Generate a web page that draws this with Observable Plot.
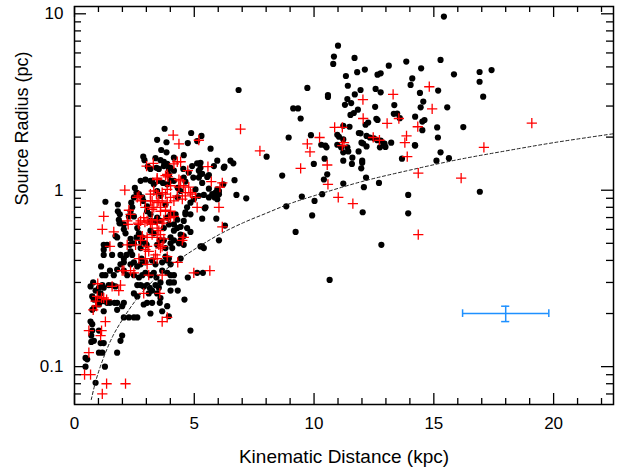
<!DOCTYPE html>
<html>
<head>
<meta charset="utf-8">
<script src="https://cdn.jsdelivr.net/npm/d3@7"></script>
<script src="https://cdn.jsdelivr.net/npm/@observablehq/plot@0.6"></script>
<style>
  html, body { margin: 0; padding: 0; background: #fff; }
</style>
</head>
<body>
<div id="chart"></div>
<script>
// ---- Data ----
// Black filled circles: [distance kpc, radius pc]
const blackSources = [
  [3.76,2.23],[3.45,1.93],[3.84,1.87],[3.62,1.69],[3.84,1.64],[4.73,1.85],[4.87,2.11],[5.3,2.03],[5.12,1.9],[5.68,1.72],
  [4.56,1.58],[4.15,1.53],[3.59,1.48],[3.73,1.45],[2.87,1.55],[2.92,1.48],[3.06,1.36],[3.42,1.34],[3.52,1.32],[3.73,1.37],
  [3.94,1.32],[4.54,1.32],[5.12,1.42],[5.26,1.34],[5.33,1.24],[5.82,1.37],[6.26,1.36],[6.51,1.47],[6.63,1.42],[5.54,1.19],
  [6.68,1.14],[7.17,0.9],[6.76,0.94],[6.21,1.08],[5.96,1.01],[6.03,0.95],[5.4,0.94],[5.47,0.8],[5.92,0.69],[5.85,0.91],
  [5.61,1.02],[5.33,1.1],[5.05,1.01],[4.96,1.18],[4.77,1.26],[5.33,0.69],[4.84,0.73],[4.7,0.8],[4.63,0.75],[4.31,1.03],
  [4.43,0.99],[4.31,0.91],[4.15,1.13],[4.01,1.13],[3.94,1.22],[3.17,1.13],[3.31,1.08],[2.76,1.13],[2.59,0.97],[2.69,0.95],
  [2.48,0.91],[2.37,0.85],[2.41,0.8],[1.81,0.83],[1.81,0.76],[1.29,0.86],[1.22,0.49],[1.36,0.49],[1.71,0.55],[1.78,0.54],
  [2.06,0.6],[2.13,0.57],[2.34,0.53],[2.83,0.54],[2.96,0.5],[3.56,0.52],[4.01,0.54],[4.15,0.52],[4.56,0.49],[5.33,0.48],
  [2.87,0.87],[3.03,0.76],[3.17,0.73],[3.45,0.7],[3.59,0.67],[3.87,0.7],[4.01,0.73],[4.15,0.64],[4.29,0.61],[3.73,0.61],
  [3.17,0.59],[3.31,0.57],[2.62,0.61],[2.69,0.57],[2.06,0.64],[4.43,0.56],[4.56,0.55],[4.7,0.61],[2.48,0.71],[2.34,0.76],
  [1.89,0.73],[1.85,0.68],
  [3.38,1.52],[3.87,1.41],[3.17,1.32],[2.96,1.15],[2.52,1.03],[1.92,0.65],[2.83,0.91],[3.03,0.81],[3.24,1.13],[3.52,1.13],
  [3.69,1.1],[3.87,1.08],[3.45,0.99],[3.59,0.93],[3.8,0.83],[2.27,0.71],[3.17,0.67],[3.38,0.67],
  [4.91,1.37],[5.26,1.43],[5.19,1.29],[5.26,1.23],[5.19,1.18],[5.61,1.22],[5.96,1.47],[6.23,1.34],[4.63,1.12],[4.56,1.18],
  [4.01,1.34],[4.15,1.29],[3.91,1.23],[5.61,0.91],[5.75,0.95],[5.89,0.97],[6.03,0.99],[5.96,0.89],[5.19,0.93],[5.44,0.79],
  [4.56,0.67],[4.63,0.73],[4.22,0.73],[4.29,0.68],[4.84,0.85],[4.98,0.89],
  [6.03,0.52],[5.4,0.47],[5.26,0.48],[1.22,0.46],[1.22,0.43],[1.57,0.43],[2.06,0.41],[2.17,0.43],[2.34,0.45],[2.31,0.49],
  [2.48,0.5],[2.59,0.54],[2.78,0.51],[3.01,0.49],[3.45,0.49],[3.73,0.52],[4.01,0.5],[4.08,0.47],[4.43,0.52],[1.92,0.38],
  [2.06,0.39],[2.34,0.38],[2.48,0.39],[2.62,0.37],[2.8,0.41],[2.96,0.39],[3.24,0.4],[3.38,0.38],[3.66,0.39],[3.87,0.4],
  [4.01,0.38],[1.11,0.37],[1.48,0.35],[1.16,0.33],[1.29,0.33],[1.64,0.33],[2.06,0.35],[2.2,0.33],[2.48,0.33],[2.69,0.32],
  [2.83,0.33],[2.96,0.34],[3.17,0.33],[3.31,0.34],[3.42,0.32],[3.66,0.35],[3.87,0.34],[4.01,0.33],[4.15,0.3],[4.01,0.3],
  [4.73,0.32],[0.78,0.3],[1.16,0.29],[1.22,0.28],[1.43,0.29],[1.57,0.29],[0.88,0.27],[0.81,0.24],[1.09,0.26],[1.16,0.235],
  [1.48,0.23],[1.36,0.23],[1.67,0.23],[1.78,0.23],[0.74,0.21],[0.81,0.215],[2.62,0.29],[2.76,0.29],[2.48,0.26],[2.62,0.25],
  [3.03,0.29],[3.14,0.28],[3.59,0.3],[3.52,0.28],[3.1,0.26],[3.24,0.27],[4.01,0.27],[4.31,0.27],[4.59,0.24],[3.03,0.23],
  [3.24,0.23],[3.56,0.23],[1.99,0.22],[3.17,0.2],[2.06,0.19],[2.27,0.19],[2.48,0.19],[2.62,0.19],[4.84,0.16],[0.74,0.16],
  [0.7,0.15],[0.81,0.14],[1.92,0.14],[1.99,0.15],[1.02,0.12],[1.16,0.12],[1.78,0.12],[0.53,0.11],[0.46,0.1],[1.27,0.1],
  [0.88,0.081],
  [1.88,0.65],[1.92,0.49],[2.76,0.47],[2.41,0.43],[1.92,0.43],[1.78,0.355],[2.76,0.38],[0.67,0.285],[1.02,0.28],[1.71,0.285],
  [2.89,0.285],[3.38,0.29],[3.45,0.26],[3.59,0.245],[0.74,0.25],[0.95,0.24],[2.06,0.23],[1.02,0.225],[1.22,0.206],[2.89,0.225],
  [3.66,0.206],[3.87,0.22],[3.94,0.193],[1.78,0.21],
  [6.28,0.63],[4.43,0.41],[4.15,0.33],[3.94,0.3],[5.12,0.34],[5.36,0.34],[3.94,0.64],[4.43,0.62],[4.15,0.59],[4.84,0.58],
  [3.8,0.47],[4.36,0.5],[3.8,0.42],[3.94,0.41],
  [0.67,0.18],[0.74,0.174],[1.02,0.16],[1.09,0.136],[1.22,0.136],[0.7,0.138],[0.46,0.112],
  [6.85,3.7],[8.02,1.55],[8.67,1.21],[8.84,0.81],[9.92,0.72],[9.23,0.58],[9.49,0.92],[10.02,0.87],[10.34,0.95],[10.41,1.15],
  [10.55,1.23],[10.44,1.51],[9.99,1.41],[9.87,2.05],[8.94,1.99],
  [15.42,9.65],[11.0,6.6],[10.83,5.72],[10.8,5.2],[11.69,5.62],[13.12,5.08],[13.85,5.36],[15.28,5.48],[15.84,4.54],[16.91,4.68],
  [16.91,4.12],[17.41,4.8],[17.06,3.39],[11.33,4.44],[11.8,4.67],[12.12,4.83],[12.65,4.52],[12.78,4.6],[14.1,4.3],[14.03,3.95],
  [14.47,4.91],[9.72,3.8],[10.58,3.46],[10.58,3.38],[11.41,3.91],[11.94,3.7],[11.7,3.49],[12.57,3.75],[12.78,3.59],[14.42,3.56],
  [15.18,3.67],[9.13,2.91],[9.33,2.91],[9.44,2.55],[11.39,3.29],[11.29,3.05],[11.55,3.12],[11.83,2.86],[11.66,2.74],[11.52,2.67],
  [12.55,2.97],[12.6,2.54],[12.65,2.5],[13.33,2.71],[13.47,2.72],[13.58,2.56],[13.35,3.04],[14.45,2.95],[14.56,3.18],[15.56,2.95],
  [14.22,2.61],[14.61,2.5],[14.52,2.45],[14.52,2.19],[15.14,2.27],[16.23,2.28],[15.17,1.99],[14.22,1.79],[13.22,1.86],[12.91,1.84],
  [12.78,1.91],[12.26,2.42],[12.15,2.35],[11.94,2.1],[11.87,2.11],[12.19,2.03],[12.33,1.99],[12.05,1.84],[11.48,2.29],[11.22,2.32],
  [11.22,1.94],[10.97,2.06],[11.04,2.01],[10.47,1.79],[10.3,1.81],[10.52,1.75],[11.13,1.75],[12.19,1.77],[11.39,1.75],[15.28,1.64],
  [15.11,1.47],[15.63,1.52],[16.92,0.98],
  [11.22,1.47],[11.43,1.66],[11.6,1.53],[11.58,1.41],[11.86,1.66],[12.01,1.47],[12.01,1.43],[11.97,1.33],[12.17,1.18],[12.08,1.04],
  [11.22,1.09],[12.03,0.75],[12.71,1.1],[12.81,0.49],[10.65,0.31],[13.93,0.94],[13.93,0.74],[13.67,1.51],[14.21,1.8],[12.94,1.84],
  [12.98,1.76],[12.75,1.75],[12.5,1.97],[12.64,1.92],[11.98,1.86],[10.97,1.81],[11.22,1.64]
];

// Red crosses: [distance kpc, radius pc]
const redSources = [
  [4.12,2.05],[4.36,1.83],[5.19,1.92],[6.93,2.22],[3.01,1.37],[3.29,1.42],[4.29,1.45],[4.43,1.45],[4.73,1.29],[5.57,1.36],
  [6.17,1.1],[6.07,1.04],[5.71,1.12],[4.43,1.13],[4.56,1.06],[3.9,1.19],[3.45,1.17],[4.77,1.04],[4.84,0.97],[5.05,0.91],
  [5.12,0.8],[6.03,0.8],[6.17,0.62],[2.1,1.0],[1.22,0.71],[1.16,0.6],[1.64,0.58],[1.48,0.48],[2.27,0.77],[2.34,0.73],
  [2.62,0.91],[2.76,0.87],[3.31,0.99],[3.42,0.95],[3.17,0.87],[3.52,0.87],[3.31,0.8],[3.59,0.76],[4.01,0.91],[4.15,0.87],
  [3.03,0.67],[3.24,0.64],[3.45,0.61],[3.52,0.59],[4.01,0.7],[4.56,0.54],[4.5,0.52],[2.76,0.52],[3.03,0.48],[3.52,0.49],
  [3.59,0.47],[2.2,0.49],
  [2.69,0.93],[3.45,1.15],[3.8,1.21],[3.17,0.95],[3.66,0.97],[3.8,0.95],[3.24,0.87],[3.45,0.85],[3.66,0.87],[3.87,0.85],
  [2.96,0.8],[3.24,0.78],[3.59,0.8],[3.8,0.77],[2.76,0.67],[2.89,0.7],[3.24,0.68],[3.45,0.67],[3.73,0.68],[2.2,0.67],[2.69,0.64],
  [4.15,1.41],[3.87,1.23],[4.36,1.15],[4.01,1.06],[4.36,1.04],[3.87,1.01],[4.63,0.97],[4.91,0.95],[4.29,0.93],[4.5,0.89],
  [4.63,0.93],[4.01,0.76],[4.15,0.71],[3.94,0.7],
  [2.24,0.64],[2.66,0.65],[2.94,0.66],[3.17,0.65],[3.66,0.65],[2.83,0.55],[3.03,0.54],[3.24,0.56],[3.45,0.54],[3.59,0.56],
  [3.73,0.53],[2.55,0.49],[2.96,0.46],[3.1,0.45],[3.38,0.43],[3.45,0.41],[3.66,0.48],[3.03,0.38],[2.69,0.41],[1.99,0.35],
  [2.34,0.35],[2.48,0.34],[3.66,0.33],[1.57,0.285],[1.92,0.29],[1.85,0.27],[1.13,0.245],[1.13,0.16],[0.6,0.16],
  [2.96,0.41],[3.31,0.41],[3.87,0.42],[4.31,0.39],[2.06,0.35],[3.1,0.33],[4.98,0.34],[5.65,0.35],[0.97,0.295],[0.95,0.25],
  [1.22,0.245],[1.34,0.24],[0.78,0.21],[0.92,0.22],[2.89,0.26],[3.56,0.26],[3.87,0.19],[3.66,0.18],[1.29,0.18],[1.09,0.15],
  [0.6,0.12],[0.42,0.09],[0.67,0.09],[1.34,0.08],[2.13,0.08],[1.16,0.07],[0.88,0.235],
  [13.3,3.49],[14.81,3.86],[14.93,2.89],[12.04,3.26],[12.05,2.55],[13.54,2.55],[13.05,2.39],[14.33,2.29],[10.86,2.27],[11.18,2.27],
  [10.23,1.99],[9.72,1.83],[12.47,1.99],[12.73,1.92],[13.86,2.03],[13.79,1.86],[11.25,1.86],[11.18,1.79],[19.09,2.4],[17.09,1.75],
  [16.14,1.17],[7.74,1.67],[9.44,1.33],[9.83,1.65],[10.55,1.39],[10.58,1.08],[11.01,0.91],[11.62,0.84],[13.89,1.55],[14.35,1.25],
  [14.35,0.56]
];

// Dashed reference curve: [distance, radius]
const limitCurve = [
  [0.7,0.065],[0.9,0.084],[1.22,0.113],[1.6,0.149],[2.06,0.19],[2.6,0.242],[3.1,0.29],[3.7,0.345],[4.43,0.41],
  [5.2,0.48],[6.03,0.56],[7,0.65],[8,0.74],[9,0.84],[10,0.93],[12,1.12],[14,1.3],[16,1.49],[18,1.67],[20,1.86],[22.5,2.09]
];

// Representative error bar (blue)
const errCenter = [18, 0.2];
const errXRange = [16.2, 19.8];
const errYRange = [0.18, 0.22];
const errCapY = [0.19, 0.21];
const errCapX = [17.83, 18.17];

// Axis ticks and labels
const xMajorTicks = [0, 5, 10, 15, 20];
const xMinorTicks = [1,2,3,4,6,7,8,9,11,12,13,14,16,17,18,19,21,22];
const yMajorTicks = [0.1, 1, 10];
const yMinorTicks = [0.07,0.08,0.09,0.2,0.3,0.4,0.5,0.6,0.7,0.8,0.9,2,3,4,5,6,7,8,9];
const xTitle = "Kinematic Distance (kpc)";
const yTitle = "Source Radius (pc)";

// ---- Layout ----
const W = 619, H = 472;
const mL = 74, mR = 6, mT = 6, mB = 68;
const iw = W - mL - mR, ih = H - mT - mB;
const majorLen = 11, minorLen = 6;
const font = "'Liberation Sans', Arial, Helvetica, sans-serif";

const black = blackSources.map(([x, y]) => ({x, y}));
const red = redSources.map(([x, y]) => ({x, y}));
const curve = limitCurve.map(([x, y]) => ({x, y}));

const chart = Plot.plot({
  width: W,
  height: H,
  marginLeft: mL, marginRight: mR, marginTop: mT, marginBottom: mB,
  style: {fontFamily: font, fontSize: "17px", background: "white", color: "black", overflow: "visible"},
  x: {domain: [0, 22.5]},
  y: {type: "log", domain: [0.061, 11]},
  marks: [
    // data
    Plot.dot(black, {x: "x", y: "y", r: 3.1, fill: "black"}),
    Plot.line(curve, {x: "x", y: "y", stroke: "#222", strokeWidth: 1, strokeDasharray: "3,2.5", curve: "catmull-rom"}),
    Plot.dot(red, {x: "x", y: "y", symbol: "plus", r: 3.4, stroke: "#ff0000", fill: "none", strokeWidth: 1.3}),
    // error bar
    Plot.ruleY([errCenter], {y: d => d[1], x1: errXRange[0], x2: errXRange[1], stroke: "#1e90ff", strokeWidth: 1.5}),
    Plot.ruleX([errCenter], {x: d => d[0], y1: errYRange[0], y2: errYRange[1], stroke: "#1e90ff", strokeWidth: 1.5}),
    Plot.ruleX(errXRange, {x: d => d, y1: errCapY[0], y2: errCapY[1], stroke: "#1e90ff", strokeWidth: 1.5}),
    Plot.ruleY(errYRange, {y: d => d, x1: errCapX[0], x2: errCapX[1], stroke: "#1e90ff", strokeWidth: 1.5}),
    // inward ticks: bottom & top
    Plot.tickX(xMajorTicks, {x: d => d, insetTop: ih - majorLen, stroke: "black", strokeWidth: 1.3}),
    Plot.tickX(xMinorTicks, {x: d => d, insetTop: ih - minorLen, stroke: "black", strokeWidth: 1.3}),
    Plot.tickX(xMajorTicks, {x: d => d, insetBottom: ih - majorLen, stroke: "black", strokeWidth: 1.3}),
    Plot.tickX(xMinorTicks, {x: d => d, insetBottom: ih - minorLen, stroke: "black", strokeWidth: 1.3}),
    // inward ticks: left & right
    Plot.tickY(yMajorTicks, {y: d => d, insetRight: iw - majorLen - 1, stroke: "black", strokeWidth: 1.3}),
    Plot.tickY(yMinorTicks, {y: d => d, insetRight: iw - minorLen - 1, stroke: "black", strokeWidth: 1.3}),
    Plot.tickY(yMajorTicks, {y: d => d, insetLeft: iw - majorLen - 1, stroke: "black", strokeWidth: 1.3}),
    Plot.tickY(yMinorTicks, {y: d => d, insetLeft: iw - minorLen - 1, stroke: "black", strokeWidth: 1.3}),
    Plot.frame({stroke: "black", strokeWidth: 1.5}),
    // tick labels
    Plot.axisX(xMajorTicks, {tickSize: 0, tickPadding: 12, fontSize: 17, label: null, tickFormat: d => String(d)}),
    Plot.axisY(yMajorTicks, {tickSize: 0, tickPadding: 11, fontSize: 17, label: null, tickFormat: d => String(d)}),
    // axis titles
    Plot.text([xTitle], {frameAnchor: "bottom", dy: 58, text: d => d, fontSize: 19, fill: "black"}),
    Plot.text([yTitle], {frameAnchor: "left", dx: -52, rotate: -90, text: d => d, fontSize: 18, fill: "black"})
  ]
});
document.getElementById("chart").appendChild(chart);
</script>
</body>
</html>
